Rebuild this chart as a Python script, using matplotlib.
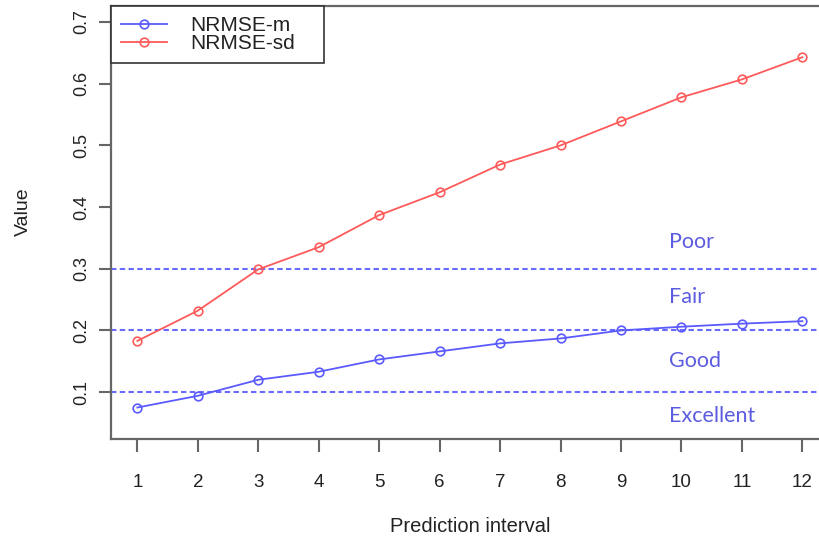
import matplotlib
matplotlib.use("Agg")
import matplotlib.pyplot as plt

# Prediction intervals and the two error measures
intervals = list(range(1, 13))
nrmse_m = [0.075, 0.094, 0.120, 0.133, 0.153, 0.166, 0.179, 0.187, 0.200, 0.206, 0.211, 0.215]
nrmse_sd = [0.183, 0.232, 0.299, 0.335, 0.387, 0.424, 0.469, 0.500, 0.539, 0.578, 0.607, 0.643]
series_names = ["NRMSE-m", "NRMSE-sd"]

# Quality thresholds and band labels
thresholds = [0.1, 0.2, 0.3]
band_labels = ["Poor", "Fair", "Good", "Excellent"]
band_label_y = [0.343, 0.254, 0.150, 0.061]
y_ticks = [0.1, 0.2, 0.3, 0.4, 0.5, 0.6, 0.7]

plt.rcParams["font.family"] = ["Liberation Sans", "DejaVu Sans"]

fig = plt.figure(figsize=(8.19, 5.46), dpi=100)
ax = fig.add_axes([0.1352, 0.196, 0.877, 0.793])

blue = "#5a5aff"
red = "#ff5a5a"
axis_grey = "#666666"

for y in thresholds:
    ax.axhline(y, color="#6a6aff", lw=1.5, linestyle=(0, (2.6, 1.6)), zorder=1)

ax.plot(intervals, nrmse_m, color=blue, lw=1.3, marker="o", ms=6.2,
        mfc="none", mec=blue, mew=1.2, label=series_names[0], zorder=3)
ax.plot(intervals, nrmse_sd, color=red, lw=1.3, marker="o", ms=6.2,
        mfc="none", mec=red, mew=1.2, label=series_names[1], zorder=3)

for lab, y in zip(band_labels, band_label_y):
    ax.text(9.79, y, lab, family=["Lato", "DejaVu Sans"], fontsize=15.5,
            color="#5c5ce0", ha="left", va="center")

ax.set_xlim(0.56, 12.44)
ax.set_ylim(0.024, 0.726)
ax.set_xticks(intervals)
ax.set_xticklabels([str(i) for i in intervals], fontsize=13.5, color="#222222")
ax.set_yticks(y_ticks)
ax.set_yticklabels([f"{v:.1f}" for v in y_ticks], fontsize=13,
                   rotation=90, va="center", color="#222222")

ax.tick_params(axis="both", direction="out", length=9, width=1.5, color=axis_grey)
ax.tick_params(axis="x", pad=16)
ax.tick_params(axis="y", pad=6)

for s in ax.spines.values():
    s.set_color(axis_grey)
    s.set_linewidth(1.6)

ax.set_xlabel("Prediction interval", fontsize=14.5, color="#222222", va="center")
ax.xaxis.set_label_coords(0.5, -(527 - 439) / 433)
ax.set_ylabel("Value", fontsize=14, color="#222222", va="center")
ax.yaxis.set_label_coords(-0.122, 0.524)

leg = ax.legend(loc="upper left", bbox_to_anchor=(0, 1, 0.2965, 0),
                mode="expand", borderaxespad=0, fontsize=15,
                handlelength=2.2, handletextpad=1.1, borderpad=0.5,
                labelspacing=-0.07, fancybox=False, framealpha=1,
                edgecolor="#333333")
leg.get_frame().set_linewidth(1.2)
for t in leg.get_texts():
    t.set_color("#222222")

fig.savefig("out.png", dpi=100)
